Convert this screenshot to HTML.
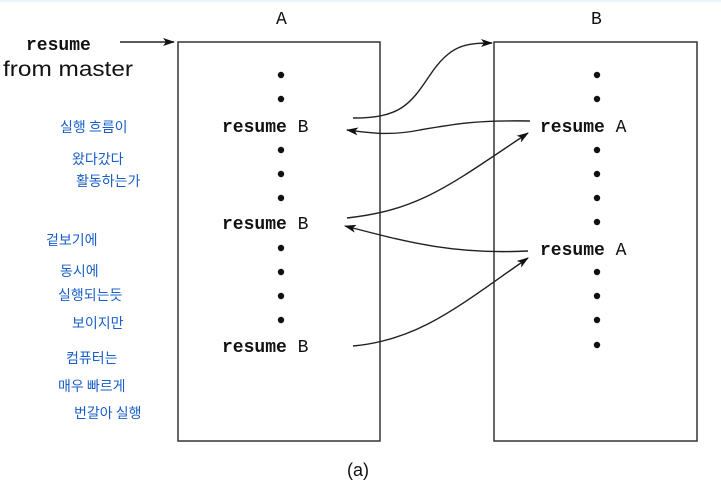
<!DOCTYPE html>
<html><head><meta charset="utf-8"><style>
html,body{margin:0;padding:0;background:#fff;}
body{width:721px;height:491px;position:relative;overflow:hidden;}
.hw{font-family:"Noto Sans CJK KR","NanumGothic",sans-serif;fill:#1a5fc8;font-size:14px;}
.mono{font-family:"Liberation Mono",monospace;font-size:18px;fill:#111;}
</style></head><body>
<svg width="721" height="491" viewBox="0 0 721 491" xmlns="http://www.w3.org/2000/svg">
<defs><marker id="ah" markerWidth="12" markerHeight="8" refX="11" refY="4" orient="auto" markerUnits="userSpaceOnUse"><path d="M0,0 L12,4 L0,8 L3,4 Z" fill="#111"/></marker></defs>
<rect x="0" y="0" width="721" height="2" fill="#e6f6fb"/>
<rect x="178" y="42" width="202" height="399" fill="none" stroke="#333" stroke-width="1.5"/>
<rect x="494" y="42" width="203" height="399" fill="none" stroke="#333" stroke-width="1.5"/>
<text class="mono" x="276" y="24">A</text><text class="mono" x="591" y="24">B</text>
<g class="mono">
<text x="222" y="132"><tspan font-weight="bold">resume</tspan> B</text>
<text x="222" y="229"><tspan font-weight="bold">resume</tspan> B</text>
<text x="222" y="352"><tspan font-weight="bold">resume</tspan> B</text>
<text x="540" y="132"><tspan font-weight="bold">resume</tspan> A</text>
<text x="540" y="255"><tspan font-weight="bold">resume</tspan> A</text>
<text x="26" y="50" font-weight="bold">resume</text>
</g>
<text x="3" y="76" textLength="130" lengthAdjust="spacingAndGlyphs" style="font-family:'Liberation Sans',sans-serif;font-size:21px" fill="#111">from master</text>
<text x="347" y="476" style="font-family:'Liberation Sans',sans-serif;font-size:18px" fill="#111">(a)</text>
<g fill="#111">
<circle cx="281" cy="75" r="3.2"/><circle cx="281" cy="99" r="3.2"/>
<circle cx="281" cy="150" r="3.2"/><circle cx="281" cy="174" r="3.2"/><circle cx="281" cy="198" r="3.2"/>
<circle cx="281" cy="248" r="3.2"/><circle cx="281" cy="272" r="3.2"/><circle cx="281" cy="296" r="3.2"/><circle cx="281" cy="320" r="3.2"/>
<circle cx="597" cy="75" r="3.2"/><circle cx="597" cy="99" r="3.2"/>
<circle cx="597" cy="150" r="3.2"/><circle cx="597" cy="174" r="3.2"/><circle cx="597" cy="198" r="3.2"/><circle cx="597" cy="222" r="3.2"/>
<circle cx="597" cy="272" r="3.2"/><circle cx="597" cy="296" r="3.2"/><circle cx="597" cy="320" r="3.2"/><circle cx="597" cy="345" r="3.2"/>
</g>
<g fill="none" stroke="#222" stroke-width="1.4" marker-end="url(#ah)">
<line x1="120" y1="42" x2="174" y2="42"/>
<path d="M353,118 C400,118 410,105 430,75 C450,45 465,43 492,43"/>
<path d="M530,121 C470,120 450,125 420,130 C390,136 370,133 347,130"/>
<path d="M347,218 C420,210 450,185 528,133"/>
<path d="M528,251 C450,255 400,240 345,226"/>
<path d="M353,346 C420,340 460,305 528,258"/>
</g>
<g class="hw">
<text x="60" y="132">실행 흐름이</text>
<text x="72" y="164">왔다갔다</text>
<text x="76" y="186">활동하는가</text>
<text x="46" y="245">겉보기에</text>
<text x="60" y="276">동시에</text>
<text x="58" y="300">실행되는듯</text>
<text x="72" y="328">보이지만</text>
<text x="66" y="363">컴퓨터는</text>
<text x="58" y="391">매우 빠르게</text>
<text x="74" y="418">번갈아 실행</text>
</g>
</svg>
</body></html>
